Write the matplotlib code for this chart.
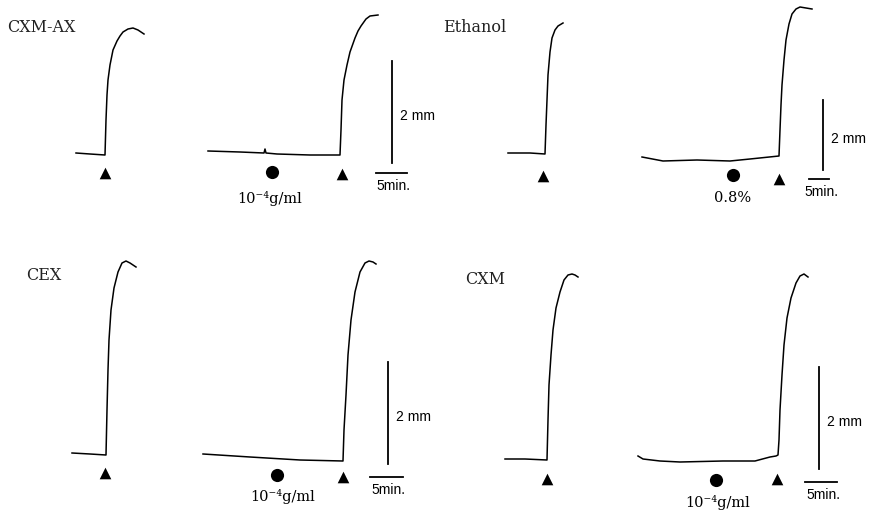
import matplotlib
matplotlib.use("Agg")
import matplotlib.pyplot as plt

plt.rcParams['font.family'] = ['DejaVu Serif']

# traces in page units (x to the right, y downward)
cxmax_ctrl_x = [76, 90, 105, 106, 107, 108, 110, 113, 117, 120, 123, 128, 133, 138, 144]
cxmax_ctrl_y = [153, 154, 155, 120, 95, 80, 65, 50, 41, 36, 32, 29, 28, 30, 34]
cxmax_drug_x = [208, 240, 264, 265, 266, 277, 310, 340, 341, 342, 344, 347, 350, 355, 358, 361, 366, 370, 378]
cxmax_drug_y = [151, 152, 153, 149, 153, 154, 155, 155, 130, 100, 80, 65, 52, 38, 31, 26, 19, 16, 15]

eth_ctrl_x = [508, 530, 545, 546, 547, 548, 550, 552, 555, 558, 563]
eth_ctrl_y = [153, 153, 154, 125, 100, 75, 52, 38, 30, 26, 23]
eth_drug_x = [642, 663, 697, 730, 750, 779, 780, 781, 782, 784, 786, 789, 792, 796, 800, 812]
eth_drug_y = [157, 161, 160, 161, 159, 156, 130, 105, 85, 60, 40, 24, 14, 9, 7, 9]

cex_ctrl_x = [72, 90, 106, 107, 108, 109, 111, 114, 118, 122, 126, 130, 136]
cex_ctrl_y = [453, 454, 455, 410, 370, 340, 310, 288, 272, 263, 261, 263, 267]
cex_drug_x = [203, 250, 300, 343, 344, 346, 348, 351, 355, 360, 365, 369, 373, 376]
cex_drug_y = [454, 457, 460, 461, 430, 395, 355, 320, 292, 272, 263, 261, 262, 264]

cxm_ctrl_x = [505, 525, 547, 548, 549, 551, 553, 556, 560, 564, 568, 572, 575, 578]
cxm_ctrl_y = [459, 459, 460, 420, 385, 355, 330, 308, 292, 280, 275, 274, 275, 277]
cxm_drug_x = [638, 643, 660, 680, 723, 755, 770, 776, 778, 779, 780, 782, 784, 787, 791, 796, 800, 804, 808]
cxm_drug_y = [456, 459, 461, 462, 461, 461, 457, 456, 455, 440, 410, 375, 345, 318, 298, 283, 276, 274, 277]

# panel labels and drug concentration labels
titles = ["CXM-AX", "Ethanol", "CEX", "CXM"]
title_xy = [(7, 28), (443, 28), (26, 275), (465, 279)]
dose_labels = ["10⁻⁴g/ml", "0.8%", "10⁻⁴g/ml", "10⁻⁴g/ml"]
dose_xy = [(270, 198), (733, 198), (283, 496), (718, 502)]

# stimulus markers: triangles (agonist) and circles (drug)
tri_x = [105, 342, 543, 779, 105, 343, 547, 777]
tri_y = [173, 174, 176, 179, 473, 477, 479, 479]
dot_x = [272, 733, 277, 716]
dot_y = [172, 175, 475, 480]

# calibration bars: vertical (2 mm) and horizontal (5 min)
vbar_x = [392, 823, 388, 819]
vbar_top = [61, 100, 362, 367]
vbar_bot = [163, 170, 464, 469]
hbar_x0 = [376, 809, 370, 805]
hbar_x1 = [407, 829, 403, 837]
hbar_y = [173, 179, 477, 482]

fig = plt.figure(figsize=(8.76, 5.16), dpi=100)
ax = fig.add_axes([0, 0, 1, 1])
ax.set_xlim(0, 876)
ax.set_ylim(516, 0)
ax.axis('off')

traces = [
    (cxmax_ctrl_x, cxmax_ctrl_y), (cxmax_drug_x, cxmax_drug_y),
    (eth_ctrl_x, eth_ctrl_y), (eth_drug_x, eth_drug_y),
    (cex_ctrl_x, cex_ctrl_y), (cex_drug_x, cex_drug_y),
    (cxm_ctrl_x, cxm_ctrl_y), (cxm_drug_x, cxm_drug_y),
]
for tx, ty in traces:
    ax.plot(tx, ty, color='black', lw=1.1, solid_joinstyle='round')

ax.scatter(tri_x, tri_y, marker='^', s=70, color='black', linewidths=0)
ax.scatter(dot_x, dot_y, marker='o', s=90, color='black', linewidths=0)

for i in range(4):
    ax.plot([vbar_x[i], vbar_x[i]], [vbar_top[i], vbar_bot[i]], color='black', lw=1.3)
    ax.plot([hbar_x0[i], hbar_x1[i]], [hbar_y[i], hbar_y[i]], color='black', lw=1.3)
    ax.text(vbar_x[i] + 8, (vbar_top[i] + vbar_bot[i]) / 2 + 4, "2 mm",
            fontsize=10, ha='left', va='center', family=['Liberation Sans', 'DejaVu Sans'])
    ax.text((hbar_x0[i] + hbar_x1[i]) / 2 + 2, hbar_y[i] + 13, "5min.",
            fontsize=10, ha='center', va='center', family=['Liberation Sans', 'DejaVu Sans'])
    ax.text(title_xy[i][0], title_xy[i][1], titles[i], fontsize=11.5,
            ha='left', va='center', color='#222222')
    ax.text(dose_xy[i][0], dose_xy[i][1], dose_labels[i], fontsize=10.5,
            ha='center', va='center')

fig.savefig('out.png', dpi=100, facecolor='white')
